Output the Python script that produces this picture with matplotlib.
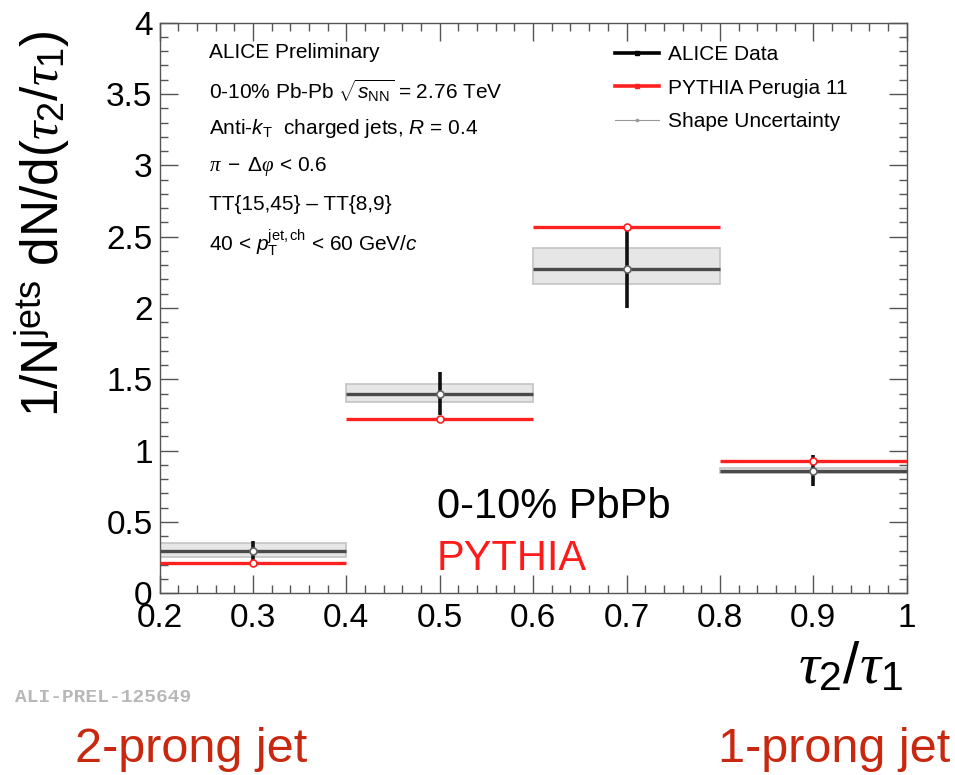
"""ALICE preliminary: tau2/tau1 distribution, 0-10% Pb-Pb vs PYTHIA."""

import matplotlib
matplotlib.use("Agg")
import matplotlib.pyplot as plt
from matplotlib.lines import Line2D
from matplotlib.patches import Rectangle

plt.rcParams["font.family"] = ["Liberation Sans", "DejaVu Sans"]
plt.rcParams["mathtext.fontset"] = "custom"
plt.rcParams["mathtext.rm"] = "Liberation Sans"
plt.rcParams["mathtext.it"] = "Liberation Serif:italic"
plt.rcParams["mathtext.sf"] = "Liberation Sans:italic"

# bins in tau2/tau1
bin_lo = [0.2, 0.4, 0.6, 0.8]
bin_hi = [0.4, 0.6, 0.8, 1.0]

# ALICE data with stat. errors and shape uncertainty band
data_y = [0.30, 1.40, 2.27, 0.86]
data_err = [0.07, 0.15, 0.27, 0.11]
shape_lo = [0.255, 1.34, 2.17, 0.84]
shape_hi = [0.355, 1.465, 2.42, 0.88]

# PYTHIA Perugia 11
pythia_y = [0.215, 1.22, 2.565, 0.93]

info_lines = [
    "ALICE Preliminary",
    r"0-10% Pb-Pb $\sqrt{\mathsf{s}_{\mathrm{NN}}}$ = 2.76 TeV",
    r"Anti-$\mathsf{k}_{\mathrm{T}}$  charged jets, $\mathsf{R}$ = 0.4",
    r"$\pi\ -\ \Delta\varphi$ < 0.6",
    "TT{15,45} \u2013 TT{8,9}",
    r"40 < $\mathsf{p}_{\mathrm{T}}^{\mathrm{jet,ch}}$ < 60 GeV/$\mathsf{c}$",
]

W, H = 955, 775
fig = plt.figure(figsize=(W / 100, H / 100), dpi=100)


def fx(px):
    return px / W


def fy(py):
    return 1 - py / H


ax = fig.add_axes([fx(159.5), fy(593.3), fx(906.7) - fx(159.5), (593.3 - 22.7) / H])

centers = [(a + b) / 2 for a, b in zip(bin_lo, bin_hi)]

for lo, hi, c, y, e, slo, shi, py in zip(bin_lo, bin_hi, centers, data_y, data_err,
                                         shape_lo, shape_hi, pythia_y):
    ax.add_patch(Rectangle((lo, slo), hi - lo, shi - slo, facecolor="#e6e6e6",
                           edgecolor="#c4c4c4", linewidth=1.2, zorder=1))
    ax.plot([lo, hi], [y, y], color="#4a4a4a", lw=2.4, zorder=2, solid_capstyle="butt")
    ax.plot([c, c], [y - e, y + e], color="#111111", lw=2.6, zorder=3, solid_capstyle="butt")
    ax.plot([c], [y], marker="o", ms=5, mfc="white", mec="#666666", mew=1.2, zorder=4)
    ax.plot([lo, hi], [py, py], color="#ff2020", lw=2.4, zorder=5, solid_capstyle="butt")
    ax.plot([c], [py], marker="o", ms=5, mfc="white", mec="#ff2020", mew=1.2, zorder=6)

ax.set_xlim(0.2, 1.0)
ax.set_ylim(0, 4)
ax.set_xticks([0.2, 0.3, 0.4, 0.5, 0.6, 0.7, 0.8, 0.9, 1.0])
ax.set_xticklabels(["0.2", "0.3", "0.4", "0.5", "0.6", "0.7", "0.8", "0.9", "1"])
ax.set_yticks([0, 0.5, 1, 1.5, 2, 2.5, 3, 3.5, 4])
ax.set_yticklabels(["0", "0.5", "1", "1.5", "2", "2.5", "3", "3.5", "4"])
ax.xaxis.set_minor_locator(matplotlib.ticker.MultipleLocator(0.02))
ax.yaxis.set_minor_locator(matplotlib.ticker.MultipleLocator(0.1))
ax.tick_params(which="both", direction="in", top=True, right=True, color="#555555", width=1)
ax.tick_params(which="major", length=13, labelsize=24)
ax.tick_params(which="minor", length=6)
ax.tick_params(axis="x", which="major", pad=7)
ax.tick_params(axis="y", which="major", pad=5)
for s in ax.spines.values():
    s.set_color("#555555")
    s.set_linewidth(1)

# info block
for i, line in enumerate(info_lines):
    fig.text(fx(209), fy(53 + 38 * i), line, fontsize=15, ha="left", va="center")

handles = [
    Line2D([], [], color="black", lw=2.6, marker="s", ms=3),
    Line2D([], [], color="#ff2020", lw=2.6, marker="s", ms=3),
    Line2D([], [], color="#999999", lw=0.8, marker="s", ms=1.5),
]
fig.legend(handles, ["ALICE Data", "PYTHIA Perugia 11", "Shape Uncertainty"],
           loc="upper left", bbox_to_anchor=(fx(615), fy(45)), frameon=False,
           fontsize=15, handlelength=2.1, handletextpad=0.45, labelspacing=0.7,
           borderpad=0, borderaxespad=0)

fig.text(fx(437), fy(518), "0-10% PbPb", fontsize=30, ha="left", va="baseline")
fig.text(fx(437), fy(570), "PYTHIA", fontsize=30, color="#ff1a1a", ha="left", va="baseline")

fig.text(fx(43), fy(224),
         r"1/N$^{\mathrm{jets}}$ dN/d($\tau_{\mathit{2}}$/$\tau_{\mathit{1}}$)",
         fontsize=37, rotation=90, ha="center", va="center")
fig.text(fx(903), fy(683), r"$\tau_{\mathit{2}}$/$\tau_{\mathit{1}}$", fontsize=42,
         ha="right", va="baseline")

fig.text(fx(15), fy(698), "ALI-PREL-125649", family="Liberation Mono", fontweight="bold",
         fontsize=14, color="#b8b8b8", ha="left", va="center")

fig.text(fx(75), fy(762), "2-prong jet", fontsize=35, color="#c8280f", ha="left", va="baseline")
fig.text(fx(950), fy(762), "1-prong jet", fontsize=35, color="#c8280f", ha="right", va="baseline")

fig.savefig("out.png", dpi=100)
